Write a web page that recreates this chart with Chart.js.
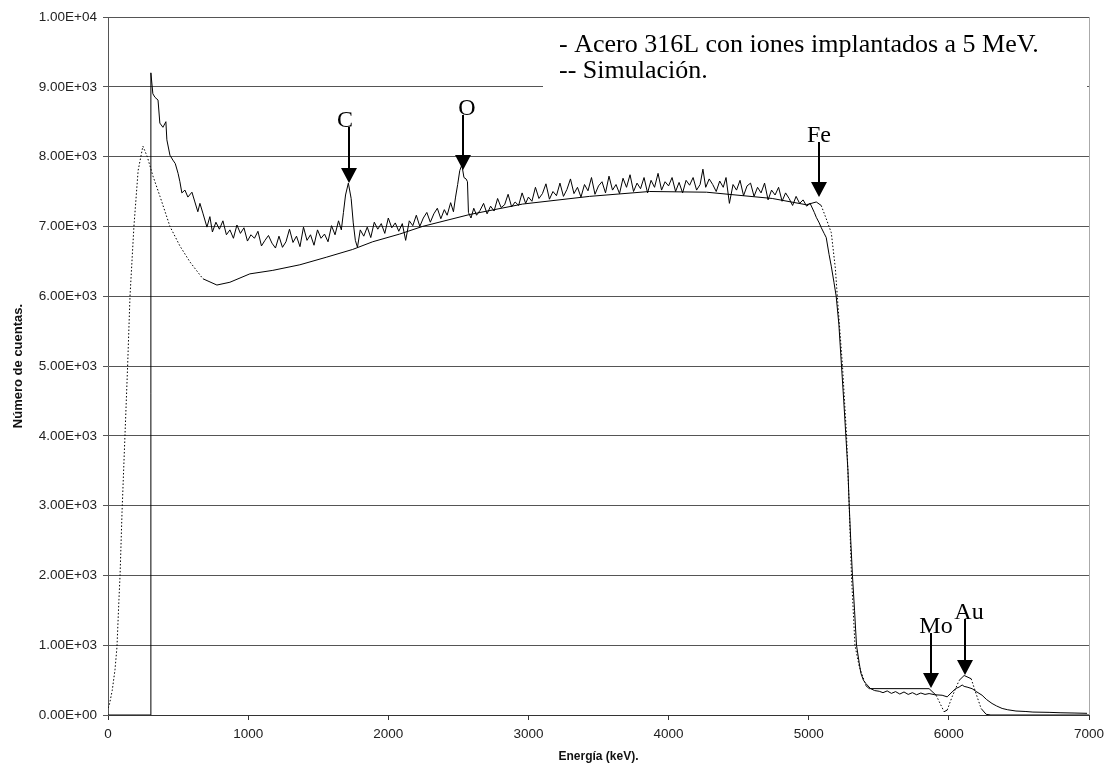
<!DOCTYPE html>
<html>
<head>
<meta charset="utf-8">
<script src="https://cdn.jsdelivr.net/npm/chart.js@4"></script>
<style>
  html, body { margin: 0; background: #fff; }
</style>
</head>
<body>
<canvas id="rbsChart" width="1114" height="768"></canvas>
<script>
// Medida experimental (keV, cuentas)
const expEnergy = [
  0, 100, 200, 300, 306, 320, 335, 357, 370, 392,
  413, 420, 442, 463, 480, 500, 513, 527, 549, 570,
  599, 620, 641, 656, 677, 706, 727, 745, 770, 795,
  820, 845, 870, 895, 920, 945, 970, 995, 1020, 1045,
  1070, 1095, 1120, 1145, 1170, 1195, 1220, 1245, 1270, 1295,
  1320, 1345, 1370, 1395, 1420, 1445, 1470, 1495, 1520, 1545,
  1570, 1595, 1620, 1645, 1665, 1680, 1695, 1715, 1735, 1750,
  1765, 1780, 1800, 1825, 1850, 1875, 1900, 1925, 1950, 1975,
  2000, 2025, 2050, 2075, 2100, 2124, 2150, 2175, 2200, 2225,
  2250, 2275, 2300, 2325, 2350, 2375, 2400, 2420, 2445, 2465,
  2480, 2495, 2510, 2525, 2540, 2555, 2565, 2572, 2590, 2610,
  2630, 2655, 2680, 2705, 2730, 2755, 2780, 2805, 2830, 2855,
  2880, 2905, 2930, 2955, 2980, 3000, 3025, 3050, 3075, 3100,
  3125, 3150, 3175, 3200, 3225, 3250, 3275, 3300, 3325, 3350,
  3375, 3400, 3425, 3450, 3475, 3500, 3525, 3550, 3575, 3600,
  3625, 3650, 3675, 3700, 3725, 3750, 3775, 3800, 3825, 3850,
  3875, 3900, 3925, 3950, 3975, 4000, 4025, 4050, 4075, 4100,
  4125, 4150, 4175, 4200, 4225, 4245, 4265, 4290, 4315, 4340,
  4365, 4390, 4410, 4434, 4460, 4485, 4510, 4535, 4560, 4585,
  4610, 4635, 4660, 4685, 4710, 4735, 4760, 4785, 4810, 4835,
  4860, 4885, 4910, 4935, 4960, 4985, 5010, 5040, 5054, 5075,
  5090, 5110, 5125, 5145, 5161, 5180, 5196, 5215, 5234, 5250,
  5265, 5280, 5289, 5300, 5312, 5327, 5341, 5360, 5372, 5390,
  5408, 5440, 5470, 5503, 5530, 5560, 5590, 5620, 5650, 5680,
  5710, 5740, 5770, 5800, 5830, 5859, 5900, 5952, 5988, 6023,
  6050, 6073, 6095, 6109, 6130, 6166, 6200, 6237, 6270, 6308,
  6340, 6380, 6420, 6479, 6550, 6600, 6715, 6800, 6900, 6986
];
const expCounts = [
  0, 0, 0, 0, 9200, 8900, 8850, 8810, 8480, 8420,
  8500, 8240, 8020, 7950, 7900, 7760, 7640, 7480, 7520, 7420,
  7490, 7350, 7210, 7330, 7190, 6990, 7140, 6920, 7060, 6960,
  7080, 6880, 6950, 6830, 7020, 6900, 6980, 6790, 6880, 6830,
  6930, 6720, 6800, 6870, 6760, 6690, 6860, 6700, 6780, 6960,
  6770, 6860, 6710, 6990, 6800, 6880, 6730, 6950, 6830, 6890,
  6780, 7010, 6880, 7080, 6950, 7200, 7450, 7620, 7400, 7050,
  6800, 6700, 6950, 6860, 6990, 6840, 7060, 6960, 7040, 6900,
  7120, 6980, 7050, 6930, 7040, 6800, 7080, 7010, 7160, 7000,
  7120, 7200, 7060, 7180, 7260, 7110, 7240, 7160, 7340, 7210,
  7420, 7600, 7800, 7880, 7700, 7680, 7640, 7200, 7120, 7260,
  7160, 7230, 7330, 7180, 7290, 7220, 7400, 7270, 7310, 7460,
  7280, 7350, 7300, 7480, 7330, 7420, 7360, 7560, 7400, 7470,
  7610, 7390, 7500, 7440, 7620, 7430, 7530, 7680, 7470, 7560,
  7420, 7600, 7510, 7700, 7460, 7580, 7640, 7480, 7720, 7520,
  7600, 7470, 7690, 7560, 7740, 7500, 7620, 7540, 7700, 7480,
  7660, 7560, 7760, 7520, 7640, 7580, 7700, 7500, 7630, 7480,
  7660, 7590, 7700, 7520, 7600, 7820, 7560, 7680, 7600, 7500,
  7650, 7560, 7700, 7330, 7600, 7520, 7660, 7440, 7580, 7620,
  7430, 7560, 7480, 7620, 7380, 7520, 7450, 7560, 7360, 7480,
  7400, 7300, 7430, 7330, 7380, 7290, 7330, 7200, 7130, 7050,
  6980, 6900, 6840, 6600, 6430, 6200, 6000, 5600, 5000, 4500,
  4000, 3500, 3000, 2500, 2000, 1500, 1000, 750, 600, 500,
  450, 380, 350, 340, 320, 345, 310, 335, 300, 330,
  295, 320, 290, 315, 295, 307, 290, 283, 260, 330,
  380, 400, 430, 410, 400, 377, 330, 283, 220, 165,
  130, 94, 75, 57, 50, 42, 38, 32, 28, 24
];

// Simulación
const simEnergy = [
  0, 10, 30, 50, 64, 78, 86, 100, 121, 140,
  157, 185, 215, 249, 280, 321, 371, 442, 513, 585,
  677, 777, 870, 1012, 1176, 1369, 1561, 1746, 1889, 2081,
  2245, 2580, 2958, 3436, 3863, 4270, 4740, 4983, 5054, 5089,
  5125, 5161, 5190, 5204, 5241, 5270, 5289, 5305, 5330, 5360,
  5408, 5432, 5859, 5909, 5966, 5988, 6023, 6073, 6109, 6159,
  6194, 6230, 6266, 6300, 7000
];
const simCounts = [
  100, 150, 350, 650, 975, 1650, 2000, 2900, 4000, 5000,
  6000, 7000, 7800, 8150, 8000, 7720, 7430, 7000, 6720, 6490,
  6250, 6160, 6200, 6320, 6370, 6450, 6560, 6670, 6780, 6890,
  7000, 7170, 7320, 7430, 7500, 7490, 7400, 7310, 7350, 7300,
  7110, 6910, 6400, 6000, 5000, 4000, 3000, 2000, 1000, 700,
  420, 378, 377, 283, 47, 70, 260, 495, 566, 520,
  307, 94, 10, 0, 0
];

// Flechas de los elementos (energía, cuentas en la punta, cuentas de la línea base del texto)
const markLabels = ['C', 'O', 'Fe', 'Mo', 'Au'];
const markEnergy = [1718, 2530, 5075, 5873, 6116];
const markTip = [7622, 7808, 7421, 387, 573];
const markText = [8424, 8596, 8209, 1175, 1375];

const legendLines = ['- Acero 316L con iones implantados a 5 MeV.', '-- Simulación.'];

function sci(v) {
  if (v === 0) return '0.00E+00';
  const e = Math.floor(Math.log10(v));
  const m = (v / Math.pow(10, e)).toFixed(2);
  return m + 'E+' + String(e).padStart(2, '0');
}

function toPoints(xs, ys) {
  return xs.map((x, i) => ({ x: x, y: ys[i] }));
}

// white legend box hides the grid under it
const legendPlugin = {
  id: 'legendBox',
  beforeDatasetsDraw(chart) {
    const { ctx, chartArea } = chart;
    ctx.save();
    ctx.fillStyle = '#fff';
    ctx.fillRect(543, chartArea.top + 3, chartArea.right - 545, 78);
    ctx.strokeStyle = '#aaa';
    ctx.lineWidth = 1;
    ctx.beginPath();
    ctx.moveTo(chartArea.right + 0.5, chartArea.top);
    ctx.lineTo(chartArea.right + 0.5, chartArea.bottom);
    ctx.stroke();
    ctx.restore();
  },
  afterDatasetsDraw(chart) {
    const { ctx } = chart;
    ctx.save();
    ctx.fillStyle = '#000';
    ctx.font = '26px "Liberation Serif", "Times New Roman", serif';
    ctx.textAlign = 'left';
    ctx.textBaseline = 'alphabetic';
    ctx.fillText(legendLines[0], 559, 52);
    ctx.fillText(legendLines[1], 559, 78);
    ctx.restore();
  }
};

const arrowPlugin = {
  id: 'arrows',
  afterDatasetsDraw(chart) {
    const { ctx, scales: { x, y } } = chart;
    const dx = [-4, 4, 0, 5, 4];
    ctx.save();
    ctx.fillStyle = '#000';
    ctx.strokeStyle = '#000';
    ctx.font = '24px "Liberation Serif", "Times New Roman", serif';
    ctx.textAlign = 'center';
    ctx.textBaseline = 'alphabetic';
    markLabels.forEach((lab, i) => {
      const px = Math.round(x.getPixelForValue(markEnergy[i]));
      const tip = y.getPixelForValue(markTip[i]);
      const ty = y.getPixelForValue(markText[i]);
      ctx.lineWidth = 2;
      ctx.beginPath();
      ctx.moveTo(px, ty);
      ctx.lineTo(px, tip - 12);
      ctx.stroke();
      ctx.beginPath();
      ctx.moveTo(px - 8, tip - 15);
      ctx.lineTo(px + 8, tip - 15);
      ctx.lineTo(px, tip);
      ctx.closePath();
      ctx.fill();
      ctx.fillText(lab, px + dx[i], ty);
    });
    ctx.restore();
  }
};

const steepDash = c => {
  const dx = Math.abs(c.p1.x - c.p0.x);
  const dy = Math.abs(c.p1.y - c.p0.y);
  return dy > 1.2 * dx ? [1.5, 2] : undefined;
};

new Chart(document.getElementById('rbsChart'), {
  type: 'line',
  data: {
    datasets: [{
      label: 'Acero 316L',
      data: toPoints(expEnergy, expCounts),
      borderColor: '#000',
      borderWidth: 1,
      pointRadius: 0,
      tension: 0
    }, {
      label: 'Simulación',
      data: toPoints(simEnergy, simCounts),
      borderColor: '#000',
      borderWidth: 1,
      pointRadius: 0,
      tension: 0,
      segment: { borderDash: steepDash }
    }]
  },
  options: {
    responsive: false,
    animation: false,
    layout: { padding: { left: 0, top: 17, right: 25, bottom: 0 } },
    plugins: {
      legend: { display: false },
      tooltip: { enabled: false }
    },
    scales: {
      x: {
        type: 'linear',
        min: 0,
        max: 7000,
        ticks: {
          stepSize: 1000,
          color: '#222',
          font: { family: '"Liberation Sans", Arial, sans-serif', size: 13.5 },
          padding: 6,
          maxRotation: 0,
          callback: v => String(v)
        },
        grid: { drawOnChartArea: false, tickLength: 5, color: '#333' },
        border: { color: '#333' },
        title: {
          display: true,
          text: 'Energía (keV).',
          color: '#111',
          font: { family: '"Liberation Sans", Arial, sans-serif', size: 12, weight: 'bold' },
          padding: { top: 5 }
        },
        afterFit: s => { s.height = 53; }
      },
      y: {
        min: 0,
        max: 10000,
        ticks: {
          stepSize: 1000,
          color: '#222',
          font: { family: '"Liberation Sans", Arial, sans-serif', size: 13.5 },
          padding: 6,
          callback: v => sci(v)
        },
        grid: { color: '#555', tickLength: 5 },
        border: { color: '#555' },
        title: {
          display: true,
          text: 'Número de cuentas.',
          color: '#111',
          font: { family: '"Liberation Sans", Arial, sans-serif', size: 13, weight: 'bold' },
          padding: { bottom: 0, top: 11 }
        },
        afterFit: s => { s.width = 108; }
      }
    }
  },
  plugins: [legendPlugin, arrowPlugin]
});
</script>
</body>
</html>
